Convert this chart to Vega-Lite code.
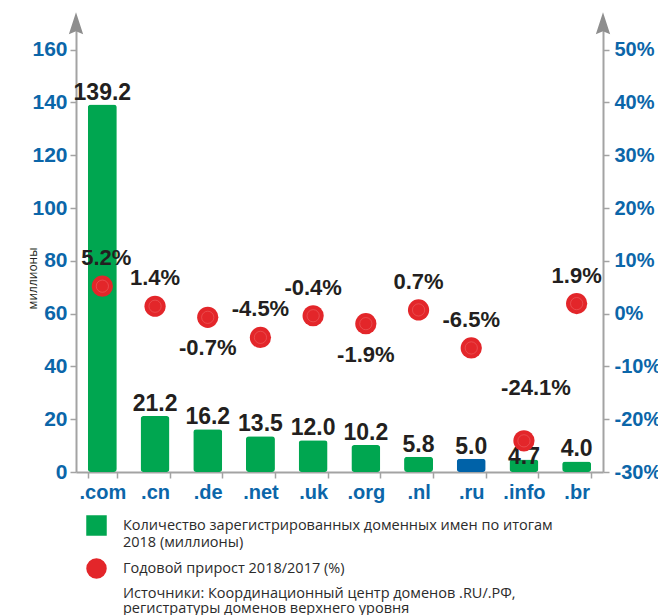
{
  "$schema": "https://vega.github.io/schema/vega-lite/v6.json",
  "width": 527,
  "height": 454,
  "autosize": {"type": "none"},
  "padding": {"left": 76, "top": 18, "right": 55, "bottom": 143},
  "background": "white",
  "config": {"view": {"stroke": null}, "font": "Liberation Sans", "axis": {"labelFont": "Liberation Sans"}},
  "datasets": {
    "domains": [
      {"tld": ".com", "count": 139.2, "growth": 5.2},
      {"tld": ".cn", "count": 21.2, "growth": 1.4},
      {"tld": ".de", "count": 16.2, "growth": -0.7},
      {"tld": ".net", "count": 13.5, "growth": -4.5},
      {"tld": ".uk", "count": 12.0, "growth": -0.4},
      {"tld": ".org", "count": 10.2, "growth": -1.9},
      {"tld": ".nl", "count": 5.8, "growth": 0.7},
      {"tld": ".ru", "count": 5.0, "growth": -6.5},
      {"tld": ".info", "count": 4.7, "growth": -24.1},
      {"tld": ".br", "count": 4.0, "growth": 1.9}
    ],
    "edges": [{"edge": 0}, {"edge": 1}]
  },
  "layer": [
    {
      "data": {"name": "domains"},
      "encoding": {
        "x": {
          "field": "tld", "type": "nominal", "sort": null,
          "scale": {"paddingInner": 0.45, "paddingOuter": 0.225},
          "axis": {
            "title": null, "labelAngle": 0, "labelFontSize": 20, "labelFontWeight": "bold",
            "labelColor": "#0b66a9", "tickBand": "extent", "tickSize": 6, "tickColor": "#a3a3a3",
            "tickWidth": 1.5, "domainColor": "#a3a3a3", "domainWidth": 2, "labelPadding": 4
          }
        },
        "y": {
          "field": "count", "type": "quantitative",
          "scale": {"domain": [0, 172], "nice": false},
          "axis": {
            "values": [0, 20, 40, 60, 80, 100, 120, 140, 160],
            "title": "миллионы", "titleFont": "Open Sans", "titleFontSize": 12, "titleFontWeight": "normal",
            "titleColor": "#231f20", "titleX": -44, "titleY": 260, "titleAngle": 270,
            "titleAlign": "center", "titleBaseline": "middle",
            "labelFontSize": 21, "labelFontWeight": "bold", "labelColor": "#0b66a9", "labelPadding": 3,
            "tickSize": 6, "tickColor": "#a3a3a3", "tickWidth": 1.5,
            "domainColor": "#a3a3a3", "domainWidth": 2, "grid": false
          }
        }
      },
      "layer": [
        {
          "mark": {"type": "bar", "cornerRadius": 3},
          "encoding": {
            "color": {
              "datum": "bars", "type": "nominal",
              "scale": {"domain": ["bars", "growth"], "range": ["#00a650", "#e3262a"]},
              "condition": {"test": "datum.tld === '.ru'", "value": "#0062a8"},
              "legend": {
                "orient": "none", "legendX": 10, "legendY": 497, "direction": "vertical",
                "title": ["Источники: Координационный центр доменов .RU/.РФ,", "регистратуры доменов верхнего уровня"],
                "titleOrient": "bottom", "titleAnchor": "start", "titleFont": "Open Sans", "titleFontSize": 14.5,
                "titleFontWeight": "normal", "titleColor": "#2b2b2b", "titleLineHeight": 15, "titlePadding": 8,
                "titleLimit": 1000,
                "labelExpr": "datum.value === 'bars' ? ['Количество зарегистрированных доменных имен по итогам', '2018 (миллионы)'] : 'Годовой прирост 2018/2017 (%)'",
                "labelFont": "Open Sans", "labelFontSize": 14.5, "labelColor": "#2b2b2b", "labelLimit": 1000,
                "labelOffset": 16, "symbolSize": 420, "symbolStrokeWidth": 0, "rowPadding": 9,
                "encode": {
                  "symbols": {"update": {"shape": {"signal": "datum.value === 'bars' ? 'square' : 'circle'"}}},
                  "labels": {"update": {"lineHeight": {"value": 17}}},
                  "title": {"update": {"dx": {"value": 37}}}
                }
              }
            }
          }
        },
        {
          "transform": [{"filter": "datum.tld !== '.info'"}],
          "mark": {"type": "text", "font": "Liberation Sans", "fontWeight": "bold", "fontSize": 23, "color": "#231f20", "baseline": "alphabetic", "dy": -5},
          "encoding": {"text": {"field": "count", "type": "quantitative", "format": ".1f"}}
        },
        {
          "transform": [{"filter": "datum.tld === '.info'"}],
          "mark": {"type": "text", "font": "Liberation Sans", "fontWeight": "bold", "fontSize": 23, "color": "#231f20", "baseline": "alphabetic", "dy": 4},
          "encoding": {"text": {"field": "count", "type": "quantitative", "format": ".1f"}}
        }
      ]
    },
    {
      "data": {"name": "domains"},
      "transform": [{"calculate": "replace(format(datum.growth, '.1f'), '\u2212', '-') + '%'", "as": "growthLabel"}],
      "encoding": {
        "x": {"field": "tld", "type": "nominal", "sort": null, "scale": {"paddingInner": 0.45, "paddingOuter": 0.225}, "axis": null},
        "y": {
          "field": "growth", "type": "quantitative",
          "scale": {"domain": [-30, 56], "nice": false, "zero": false},
          "axis": {
            "orient": "right", "values": [-30, -20, -10, 0, 10, 20, 30, 40, 50],
            "labelExpr": "datum.value + '%'", "title": null,
            "labelFontSize": 20, "labelFontWeight": "bold", "labelColor": "#0b66a9", "labelPadding": 5,
            "tickSize": 6, "tickColor": "#a3a3a3", "tickWidth": 1.5,
            "domainColor": "#a3a3a3", "domainWidth": 2, "grid": false
          }
        }
      },
      "layer": [
        {
          "mark": {"type": "point", "filled": true, "size": 450, "opacity": 1, "strokeWidth": 0},
          "encoding": {"color": {"datum": "growth", "type": "nominal"}}
        },
        {
          "mark": {"type": "point", "filled": false, "size": 150, "opacity": 0.6, "color": "#f58a8a", "strokeWidth": 0.6}
        },
        {
          "transform": [{"filter": "indexof(['.de', '.org', '.info', '.com'], datum.tld) < 0"}],
          "mark": {"type": "text", "font": "Liberation Sans", "fontWeight": "bold", "fontSize": 22, "color": "#231f20", "baseline": "middle", "dy": -28},
          "encoding": {"text": {"field": "growthLabel"}}
        },
        {
          "transform": [{"filter": "datum.tld === '.com'"}],
          "mark": {"type": "text", "font": "Liberation Sans", "fontWeight": "bold", "fontSize": 22, "color": "#231f20", "baseline": "middle", "dy": -28, "dx": 4},
          "encoding": {"text": {"field": "growthLabel"}}
        },
        {
          "transform": [{"filter": "indexof(['.de', '.org'], datum.tld) >= 0"}],
          "mark": {"type": "text", "font": "Liberation Sans", "fontWeight": "bold", "fontSize": 22, "color": "#231f20", "baseline": "middle", "dy": 31},
          "encoding": {"text": {"field": "growthLabel"}}
        },
        {
          "transform": [{"filter": "datum.tld === '.info'"}],
          "mark": {"type": "text", "font": "Liberation Sans", "fontWeight": "bold", "fontSize": 22, "color": "#231f20", "baseline": "middle", "dy": -53, "dx": 12},
          "encoding": {"text": {"field": "growthLabel"}}
        }
      ]
    },
    {
      "data": {"name": "edges"},
      "mark": {"type": "point", "shape": "M0,-1L0.65,1L0,0.72L-0.65,1Z", "filled": true, "color": "#8e8e8e", "size": 484, "opacity": 1, "strokeWidth": 0},
      "encoding": {
        "x": {"field": "edge", "type": "quantitative", "scale": {"domain": [0, 1], "nice": false, "zero": false}, "axis": null},
        "y": {"datum": 170, "type": "quantitative", "scale": {"domain": [0, 172], "nice": false}, "axis": null}
      }
    }
  ],
  "resolve": {"scale": {"x": "independent", "y": "independent"}}
}
